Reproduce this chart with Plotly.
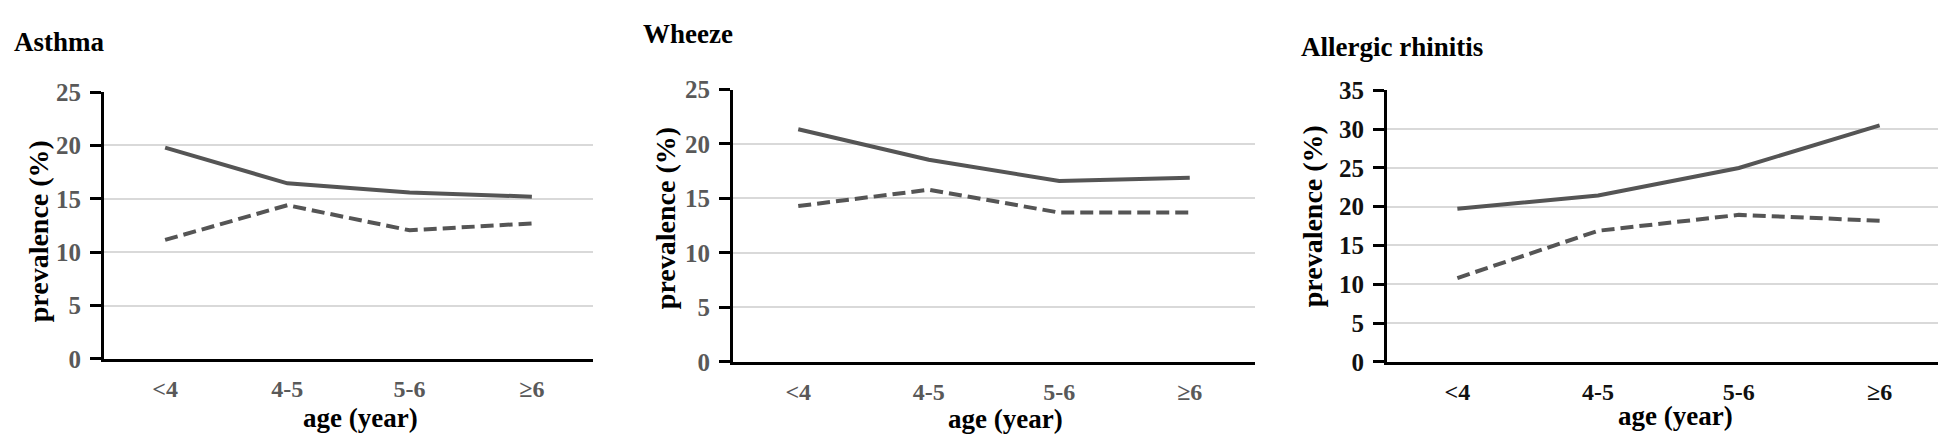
import plotly.graph_objects as go

W, H = 1946, 441

categories = ["<4", "4-5", "5-6", "≥6"]

panel_titles = ["Asthma", "Wheeze", "Allergic rhinitis"]

asthma_solid = [19.8, 16.45, 15.6, 15.2]
asthma_dashed = [11.15, 14.4, 12.05, 12.7]

wheeze_solid = [21.35, 18.55, 16.6, 16.9]
wheeze_dashed = [14.3, 15.8, 13.7, 13.7]

rhinitis_solid = [19.75, 21.45, 25.0, 30.5]
rhinitis_dashed = [10.8, 16.9, 18.95, 18.2]

y_max = [25, 25, 35]
y_tick_step = 5

x_axis_title = "age (year)"
y_axis_title = "prevalence (%)"

solids = [asthma_solid, wheeze_solid, rhinitis_solid]
dasheds = [asthma_dashed, wheeze_dashed, rhinitis_dashed]

# pixel layout (left, right, top, bottom)
boxes = [(96, 585, 75.7, 360), (725, 1247, 73, 363), (1379, 1942, 74, 363)]
tick_colors = ["#595959", "#595959", "#111111"]

line_color = "#555555"
grid_color = "#d9d9d9"
FONT = "Liberation Serif"

fig = go.Figure()

for i in range(3):
    xa = "x" if i == 0 else f"x{i+1}"
    ya = "y" if i == 0 else f"y{i+1}"
    fig.add_trace(go.Scatter(x=categories, y=solids[i], mode="lines",
                             line=dict(color=line_color, width=4),
                             xaxis=xa, yaxis=ya, showlegend=False))
    fig.add_trace(go.Scatter(x=categories, y=dasheds[i], mode="lines",
                             line=dict(color=line_color, width=4, dash="13px,6px"),
                             xaxis=xa, yaxis=ya, showlegend=False))

layout = dict(width=W, height=H, margin=dict(l=0, r=0, t=0, b=0),
              paper_bgcolor="white", plot_bgcolor="white", showlegend=False)

annotations = []
for i, (l, r, t, b) in enumerate(boxes):
    key_x = "xaxis" if i == 0 else f"xaxis{i+1}"
    key_y = "yaxis" if i == 0 else f"yaxis{i+1}"
    ya = "y" if i == 0 else f"y{i+1}"
    xa = "x" if i == 0 else f"x{i+1}"
    layout[key_x] = dict(domain=[l / W, r / W], anchor=ya, type="category",
                         range=[-0.5, 3.5], showgrid=False, zeroline=False,
                         showline=True, linecolor="black", linewidth=3,
                         ticks="", ticklabelstandoff=6,
                         tickfont=dict(family=FONT, size=24, color=tick_colors[i], weight="bold"))
    layout[key_y] = dict(domain=[1 - b / H, 1 - t / H], anchor=xa,
                         range=[0, y_max[i]], dtick=y_tick_step, tick0=0,
                         showgrid=True, gridcolor=grid_color, gridwidth=1.5,
                         zeroline=False, showline=True, linecolor="black", linewidth=3,
                         ticks="outside", ticklen=11, tickwidth=2.5, tickcolor="black",
                         ticklabelstandoff=4,
                         tickfont=dict(family=FONT, size=25, color=tick_colors[i], weight="bold"))

# panel titles
title_pos = [(4, 22), (633, 14), (1291, 28)]
for (x, y), txt in zip(title_pos, panel_titles):
    annotations.append(dict(text=txt, x=x / W, y=1 - y / H, xref="paper", yref="paper",
                            xanchor="left", yanchor="middle", showarrow=False,
                            font=dict(family=FONT, size=27, color="black", weight="bold")))

# x axis titles
xt_pos = [(352, 423), (997, 424), (1667, 421)]
for x, y in xt_pos:
    annotations.append(dict(text=x_axis_title, x=x / W, y=1 - y / H, xref="paper", yref="paper",
                            xanchor="center", yanchor="middle", showarrow=False,
                            font=dict(family=FONT, size=27, color="black", weight="bold")))

# y axis titles
yt_pos = [(30, 224), (657, 210), (1304, 208)]
for x, y in yt_pos:
    annotations.append(dict(text=y_axis_title, x=x / W, y=1 - y / H, xref="paper", yref="paper",
                            xanchor="center", yanchor="middle", showarrow=False, textangle=-90,
                            font=dict(family=FONT, size=28, color="black", weight="bold")))

layout["annotations"] = annotations
fig.update_layout(**layout)
fig.write_html("out.html")
